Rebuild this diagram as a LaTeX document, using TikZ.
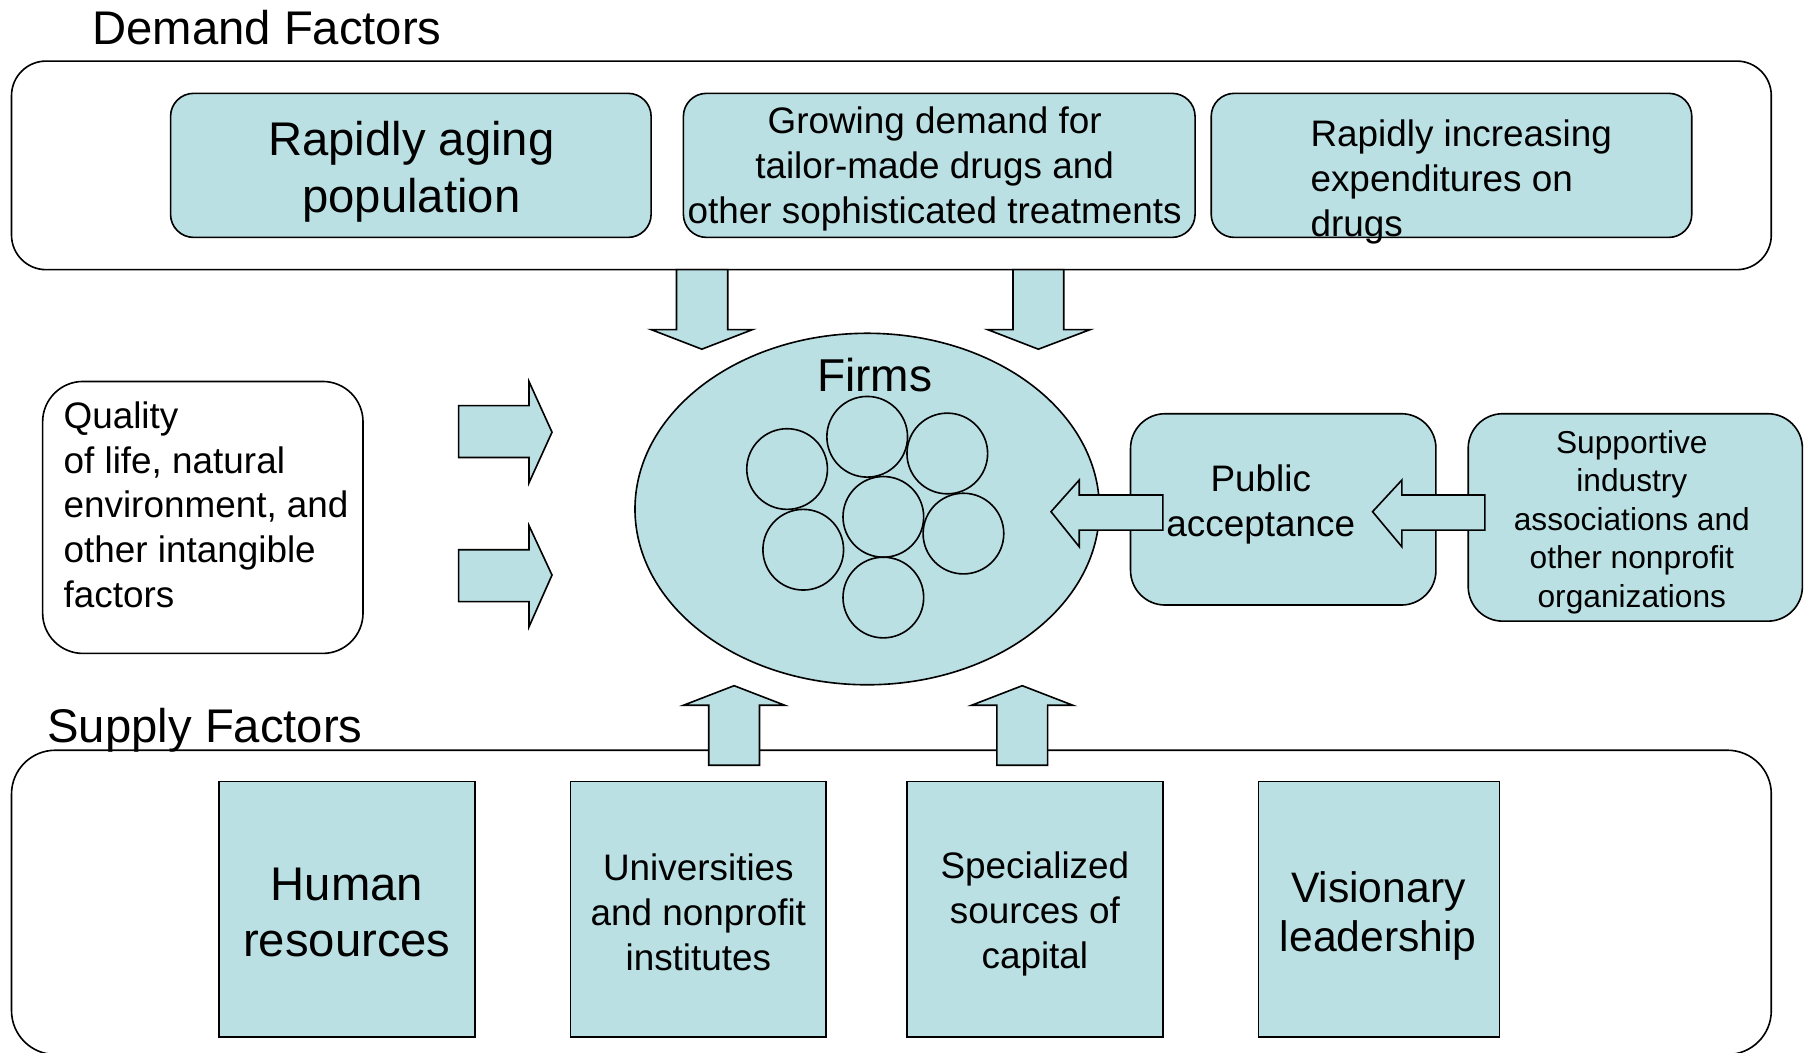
\documentclass[tikz,border=0pt]{standalone}
\usepackage{fontspec}
\setmainfont{Liberation Sans}
\usetikzlibrary{shapes.geometric}
\definecolor{boxfill}{RGB}{187,224,227}
\begin{document}
\begin{tikzpicture}[x=1pt,y=-1pt,
  outline/.style={draw=black,line width=1.4pt},
  panel/.style={outline,rectangle,rounded corners=#1,inner sep=0pt},
  tealbox/.style={outline,fill=boxfill,rectangle,inner sep=0pt},
  softbox/.style={tealbox,rounded corners=#1},
  txt/.style={inner sep=0pt,align=center},
  bigtxt/.style={txt,font=\fontsize{41}{50}\selectfont},
  midtxt/.style={txt,font=\fontsize{32}{39}\selectfont},
  blockarrow/.style={outline,fill=boxfill,line join=miter},
  firm/.style={outline,circle,minimum size=70pt,inner sep=0pt}]
\useasboundingbox (0,0) rectangle (1568,913);

% ---- demand side ----
\node[panel=30pt,minimum width=1527pt,minimum height=181pt] (demand) at (773.5,143.5) {};
\node[anchor=base west,inner sep=0pt,font=\fontsize{41}{48}\selectfont] (demandlbl) at (80,39) {Demand Factors};

\node[softbox=20pt,minimum width=417pt,minimum height=125pt] (aging) at (356.5,143.5) {};
\node[bigtxt] (agingtxt) at (357,149) {Rapidly aging\\population};

\node[softbox=20pt,minimum width=444pt,minimum height=125pt] (tailor) at (815,143.5) {};
\node[midtxt] (tailortxt) at (811,147) {Growing demand for\\tailor-made drugs and\\other sophisticated treatments};

\node[softbox=20pt,minimum width=417pt,minimum height=125pt] (spend) at (1259.5,143.5) {};
\node[midtxt,align=left,anchor=west] (spendtxt) at (1137,158) {Rapidly increasing\\expenditures on\\drugs};

% ---- intangibles ----
\node[outline,rectangle,rounded corners=35pt,minimum width=278pt,minimum height=236pt] (quality) at (176,449) {};
\node[midtxt,align=left,anchor=west] (qualitytxt) at (55,438) {Quality\\of life, natural\\environment, and\\other intangible\\factors};

% ---- firms ----
\node[outline,fill=boxfill,ellipse,minimum width=403pt,minimum height=305pt,inner sep=0pt] (firms) at (752.5,441.7) {};
\node[txt,font=\fontsize{40}{48}\selectfont] (firmstxt) at (759,325) {Firms};
\node[firm] (f1) at (683,407) {};
\node[firm] (f2) at (752.5,379) {};
\node[firm] (f3) at (822,393.5) {};
\node[firm] (f4) at (766.5,448.5) {};
\node[firm] (f5) at (697,477) {};
\node[firm] (f6) at (836,463) {};
\node[firm] (f7) at (766.5,518.5) {};

% ---- acceptance chain ----
\node[softbox=30pt,minimum width=265pt,minimum height=166pt] (public) at (1113.5,442) {};
\node[midtxt] (publictxt) at (1094,438) {Public\\acceptance};

\node[softbox=30pt,minimum width=290pt,minimum height=180pt] (assoc) at (1419,449) {};
\node[txt,font=\fontsize{27.5}{33.3}\selectfont] (assoctxt) at (1416,453) {Supportive\\industry\\associations and\\other nonprofit\\organizations};

% ---- supply side (lower edge runs just past the page) ----
\node[panel=38pt,minimum width=1527pt,minimum height=264pt] (supply) at (773.5,783) {};
\node[anchor=base west,inner sep=0pt,font=\fontsize{41}{48}\selectfont] (supplylbl) at (41,644) {Supply Factors};

\node[tealbox,minimum width=222pt,minimum height=222pt] (human) at (301,789) {};
\node[bigtxt,font=\fontsize{41}{49}\selectfont] (humantxt) at (301,792) {Human\\resources};

\node[tealbox,minimum width=222pt,minimum height=222pt] (univ) at (606,789) {};
\node[midtxt] (univtxt) at (606,792) {Universities\\and nonprofit\\institutes};

\node[tealbox,minimum width=222pt,minimum height=222pt] (capital) at (898,789) {};
\node[midtxt] (capitaltxt) at (898,793) {Specialized\\sources of\\capital};

\node[tealbox,minimum width=209pt,minimum height=222pt] (vision) at (1196.5,789) {};
\node[txt,font=\fontsize{37}{43}\selectfont] (visiontxt) at (1196,795) {Visionary\\leadership};

% ---- block arrows ----
% demand into firms
\draw[blockarrow] (587,234) -- (631.5,234) -- (631.5,286) -- (653,286) -- (609,303)
  -- (565,286) -- (587,286) -- cycle;
\draw[blockarrow] (879,234) -- (923,234) -- (923,286) -- (946,286) -- (901,303)
  -- (857,286) -- (879,286) -- cycle;
% intangibles into firms
\draw[blockarrow] (398,352) -- (459,352) -- (459,331) -- (479,375) -- (459,419)
  -- (459,397) -- (398,397) -- cycle;
\draw[blockarrow] (398,477) -- (459,477) -- (459,456) -- (479,499) -- (459,544)
  -- (459,522) -- (398,522) -- cycle;
% acceptance chain into firms
\draw[blockarrow] (1009,429.5) -- (936.5,429.5) -- (936.5,416.5) -- (912,444) -- (936.5,474.5)
  -- (936.5,460) -- (1009,460) -- cycle;
\draw[blockarrow] (1288.5,429.5) -- (1216.5,429.5) -- (1216.5,416.5) -- (1191,444) -- (1216.5,474.5)
  -- (1216.5,460) -- (1288.5,460) -- cycle;
% supply into firms
\draw[blockarrow] (615,664) -- (659,664) -- (659,612) -- (681,612) -- (637,595)
  -- (593,612) -- (615,612) -- cycle;
\draw[blockarrow] (865,664) -- (909,664) -- (909,612) -- (931,612) -- (887,595)
  -- (843,612) -- (865,612) -- cycle;
\end{tikzpicture}
\end{document}
